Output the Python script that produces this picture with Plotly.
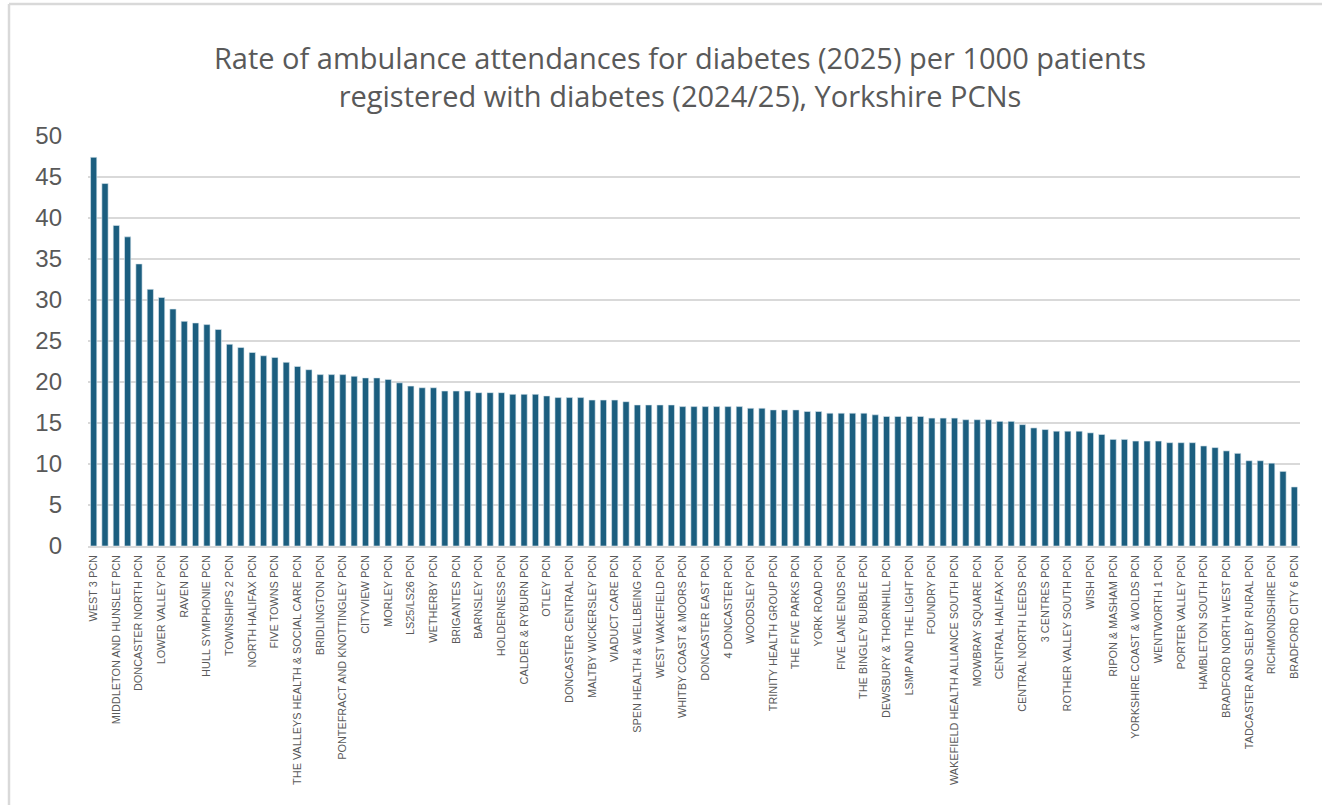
import plotly.graph_objects as go

# Rate of ambulance attendances for diabetes per 1000 registered diabetic patients, by PCN (sorted)
rates = [
    47.4, 44.2, 39.1, 37.7, 34.4, 31.3, 30.3, 28.9, 27.4, 27.2,
    27.0, 26.4, 24.6, 24.2, 23.6, 23.2, 23.0, 22.4, 21.9, 21.5,
    20.9, 20.9, 20.9, 20.7, 20.5, 20.5, 20.3, 19.9, 19.5, 19.3,
    19.3, 18.9, 18.9, 18.9, 18.7, 18.7, 18.7, 18.5, 18.5, 18.5,
    18.3, 18.1, 18.1, 18.1, 17.8, 17.8, 17.8, 17.6, 17.2, 17.2,
    17.2, 17.2, 17.0, 17.0, 17.0, 17.0, 17.0, 17.0, 16.8, 16.8,
    16.6, 16.6, 16.6, 16.4, 16.4, 16.2, 16.2, 16.2, 16.2, 16.0,
    15.8, 15.8, 15.8, 15.8, 15.6, 15.6, 15.6, 15.4, 15.4, 15.4,
    15.2, 15.2, 14.8, 14.4, 14.2, 14.0, 14.0, 14.0, 13.8, 13.6,
    13.0, 13.0, 12.8, 12.8, 12.8, 12.6, 12.6, 12.6, 12.2, 12.0,
    11.6, 11.3, 10.4, 10.4, 10.1, 9.1, 7.2,
]

# Category axis shows every second PCN name
labelled_pcns = [
    "WEST 3 PCN", "MIDDLETON AND HUNSLET PCN", "DONCASTER NORTH PCN",
    "LOWER VALLEY PCN", "RAVEN PCN", "HULL SYMPHONIE PCN", "TOWNSHIPS 2 PCN",
    "NORTH HALIFAX PCN", "FIVE TOWNS PCN", "THE VALLEYS HEALTH & SOCIAL CARE PCN",
    "BRIDLINGTON PCN", "PONTEFRACT AND KNOTTINGLEY PCN", "CITYVIEW PCN",
    "MORLEY PCN", "LS25/LS26 PCN", "WETHERBY PCN", "BRIGANTES PCN",
    "BARNSLEY PCN", "HOLDERNESS PCN", "CALDER & RYBURN PCN", "OTLEY PCN",
    "DONCASTER CENTRAL PCN", "MALTBY WICKERSLEY PCN", "VIADUCT CARE PCN",
    "SPEN HEALTH & WELLBEING PCN", "WEST WAKEFIELD PCN",
    "WHITBY COAST & MOORS PCN", "DONCASTER EAST PCN", "4 DONCASTER PCN",
    "WOODSLEY PCN", "TRINITY HEALTH GROUP PCN", "THE FIVE PARKS PCN",
    "YORK ROAD PCN", "FIVE LANE ENDS PCN", "THE BINGLEY BUBBLE PCN",
    "DEWSBURY & THORNHILL PCN", "LSMP AND THE LIGHT PCN", "FOUNDRY PCN",
    "WAKEFIELD HEALTH ALLIANCE SOUTH PCN", "MOWBRAY SQUARE PCN",
    "CENTRAL HALIFAX PCN", "CENTRAL NORTH LEEDS PCN", "3 CENTRES PCN",
    "ROTHER VALLEY SOUTH PCN", "WISH PCN", "RIPON & MASHAM PCN",
    "YORKSHIRE COAST & WOLDS PCN", "WENTWORTH 1 PCN", "PORTER VALLEY PCN",
    "HAMBLETON SOUTH PCN", "BRADFORD NORTH WEST PCN",
    "TADCASTER AND SELBY RURAL PCN", "RICHMONDSHIRE PCN", "BRADFORD CITY 6 PCN",
]

y_ticks = [0, 5, 10, 15, 20, 25, 30, 35, 40, 45, 50]

positions = list(range(len(rates)))
label_positions = positions[::2]

BAR = "#1b5e7f"
TEXT = "#595959"
GRID = "#d9d9d9"

W, H = 1322, 805
ML, MR, MT, MB = 88, 22, 136, 259
PW, PH = W - ML - MR, H - MT - MB

fig = go.Figure(
    go.Bar(
        x=positions,
        y=rates,
        marker=dict(color=BAR, line=dict(color="#dde9f0", width=0.6)),
        hoverinfo="y",
    )
)

fig.update_layout(
    width=W,
    height=H,
    paper_bgcolor="white",
    plot_bgcolor="white",
    margin=dict(l=ML, r=MR, t=MT, b=MB),
    bargap=0.45,
    showlegend=False,
    title=dict(
        text="Rate of ambulance attendances for diabetes (2025) per 1000 patients<br>"
             "registered with diabetes (2024/25), Yorkshire PCNs",
        x=680 / W,
        xanchor="center",
        xref="container",
        y=1 - 69 / H,
        yref="container",
        yanchor="top",
        font=dict(family="Open Sans, Lato, sans-serif", size=29, color=TEXT),
    ),
    xaxis=dict(
        range=[-0.5, len(rates) - 0.5],
        tickmode="array",
        tickvals=label_positions,
        ticktext=labelled_pcns,
        tickangle=-90,
        tickfont=dict(family="Liberation Sans, Arial, sans-serif", size=10.9, color=TEXT),
        showgrid=False,
        zeroline=False,
        showline=True,
        linecolor=GRID,
        linewidth=1.5,
        ticks="",
        ticklabelstandoff=3,
    ),
    yaxis=dict(
        range=[0, 50],
        tickmode="array",
        tickvals=y_ticks,
        tickfont=dict(family="Liberation Sans, Arial, sans-serif", size=24, color=TEXT),
        showgrid=True,
        gridcolor=GRID,
        gridwidth=1.5,
        zeroline=False,
        showline=False,
        ticks="",
        ticklabelstandoff=25,
    ),
)

# light frame around the chart: left edge at x≈9, top edge at y≈4
def px_x(px):
    return (px - ML) / PW

def px_y(py):
    return (H - MB - py) / PH

fig.add_shape(
    type="line", xref="paper", yref="paper",
    x0=px_x(9), x1=px_x(9), y0=px_y(H), y1=px_y(4),
    line=dict(color=GRID, width=2.5),
)
fig.add_shape(
    type="line", xref="paper", yref="paper",
    x0=px_x(9), x1=px_x(W), y0=px_y(4), y1=px_y(4),
    line=dict(color=GRID, width=2.5),
)

fig.write_html("out.html")
